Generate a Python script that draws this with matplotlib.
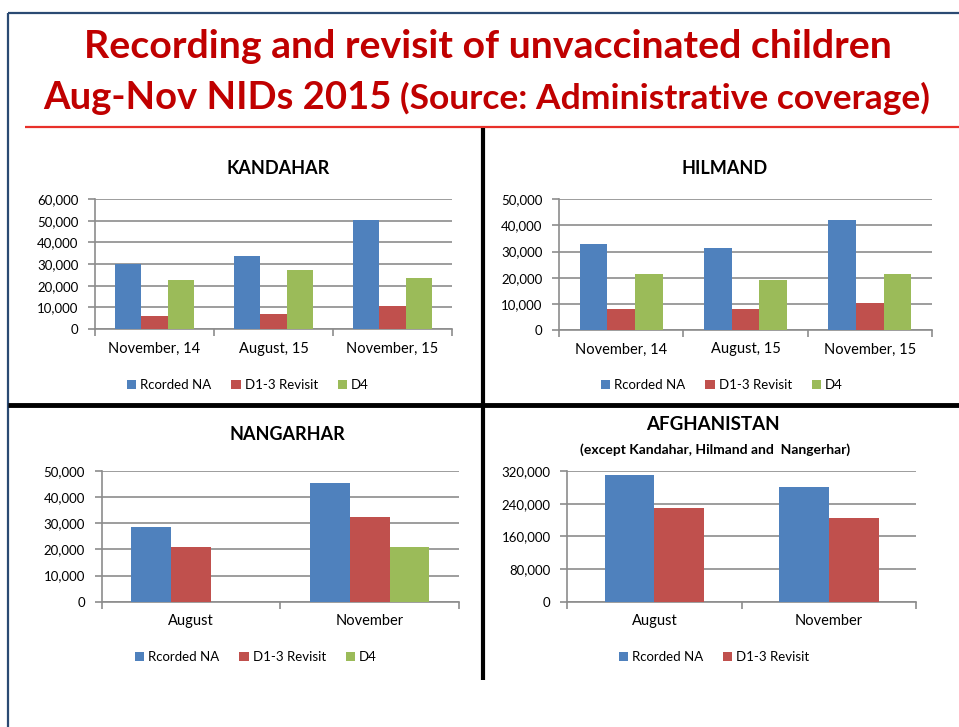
import numpy as np
import matplotlib
matplotlib.use("Agg")
import matplotlib.pyplot as plt
from matplotlib.ticker import FuncFormatter, FixedLocator

plt.rcParams['font.family'] = ['Lato', 'DejaVu Sans']

# ------------------ data ------------------
series_names = ["Rcorded NA", "D1-3 Revisit", "D4"]
colors = ["#4F81BD", "#C0504D", "#9BBB59"]

kandahar_cats = ["November, 14", "August, 15", "November, 15"]
kandahar_na = [30000, 33800, 50200]
kandahar_revisit = [5800, 6800, 10600]
kandahar_d4 = [22800, 27300, 23600]

hilmand_cats = ["November, 14", "August, 15", "November, 15"]
hilmand_na = [32800, 31200, 42000]
hilmand_revisit = [8200, 8200, 10500]
hilmand_d4 = [21300, 19000, 21300]

nangarhar_cats = ["August", "November"]
nangarhar_na = [28700, 45500]
nangarhar_revisit = [21000, 32500]
nangarhar_d4 = [0, 21000]

afg_cats = ["August", "November"]
afg_na = [311000, 281500]
afg_revisit = [228500, 204000]

W, H = 959, 727
fig = plt.figure(figsize=(W / 100, H / 100), dpi=100)
fig.patch.set_facecolor("white")


def rect(x0, y0, x1, y1):
    # pixel box -> figure fraction
    return [x0 / W, 1 - y1 / H, (x1 - x0) / W, (y1 - y0) / H]


def fline(xs, ys, color, lw):
    fig.add_artist(plt.Line2D([x / W for x in xs], [1 - y / H for y in ys],
                              color=color, lw=lw, transform=fig.transFigure,
                              solid_capstyle="butt"))


def bar_panel(box, cats, values, ymax, step, legend_xy):
    ax = fig.add_axes(rect(*box))
    n = len(values)
    x = np.arange(len(cats))
    w = 1 / (n + 1.5)
    for i, vals in enumerate(values):
        ax.bar(x + (i - (n - 1) / 2) * w, vals, width=w, color=colors[i],
               label=series_names[i], zorder=3)
    ax.set_xlim(-0.5, len(cats) - 0.5)
    ax.set_ylim(0, ymax)
    ax.set_yticks(np.arange(0, ymax + 1, step))
    ax.yaxis.set_major_formatter(FuncFormatter(lambda v, p: f"{int(v):,}"))
    ax.grid(axis="y", color="#8C8C8C", lw=1.2, zorder=0)
    ax.set_xticks(x)
    ax.set_xticklabels(cats, fontsize=10.5)
    ax.xaxis.set_minor_locator(FixedLocator(np.arange(-0.5, len(cats), 1)))
    ax.tick_params(axis="x", which="major", length=0, pad=9)
    ax.tick_params(axis="x", which="minor", length=5, color="#8C8C8C", width=1.2)
    ax.tick_params(axis="y", length=5, color="#8C8C8C", width=1.2, labelsize=9.5, pad=7)
    for s in ["top", "right"]:
        ax.spines[s].set_visible(False)
    for s in ["left", "bottom"]:
        ax.spines[s].set_color("#8C8C8C")
        ax.spines[s].set_linewidth(1.2)
    ax.legend(loc="center", bbox_to_anchor=(legend_xy[0] / W, 1 - legend_xy[1] / H),
              bbox_transform=fig.transFigure, ncol=n, frameon=False, fontsize=9.5,
              handlelength=0.7, handleheight=0.7, handletextpad=0.3, columnspacing=1.5)
    return ax


bar_panel((95, 199, 452, 329), kandahar_cats,
          [kandahar_na, kandahar_revisit, kandahar_d4], 60000, 10000, (248, 385))
bar_panel((559, 199.3, 932, 330), hilmand_cats,
          [hilmand_na, hilmand_revisit, hilmand_d4], 50000, 10000, (722, 385))
bar_panel((101.7, 471, 459, 601.7), nangarhar_cats,
          [nangarhar_na, nangarhar_revisit, nangarhar_d4], 50000, 10000, (256, 657))
bar_panel((567.3, 471, 916, 601.7), afg_cats,
          [afg_na, afg_revisit], 320000, 80000, (714, 657))

# ------------------ titles ------------------
red = "#C00000"
fig.text(488 / W, 1 - 47 / H, "Recording and revisit of unvaccinated children",
         ha="center", va="center", color=red, fontsize=28.3, fontweight="bold")
fig.text(392 / W, 1 - 98 / H, "Aug-Nov NIDs 2015", ha="right", va="center",
         color=red, fontsize=27.5, fontweight="bold")
fig.text(400 / W, 1 - 98 / H, "(Source: Administrative coverage)", ha="left",
         va="center", color=red, fontsize=25.5, fontweight="bold")

fig.text(278 / W, 1 - 168 / H, "KANDAHAR", ha="center", va="center",
         fontsize=13, fontweight="bold")
fig.text(725 / W, 1 - 168 / H, "HILMAND", ha="center", va="center",
         fontsize=13, fontweight="bold")
fig.text(287 / W, 1 - 434 / H, "NANGARHAR", ha="center", va="center",
         fontsize=13, fontweight="bold")
fig.text(713 / W, 1 - 424 / H, "AFGHANISTAN", ha="center", va="center",
         fontsize=13.5, fontweight="bold")
fig.text(715 / W, 1 - 450 / H, "(except Kandahar, Hilmand and  Nangerhar)",
         ha="center", va="center", fontsize=10, fontweight="bold")

# ------------------ frame and dividers ------------------
fline([8, 959], [13, 13], "#2B4A73", 1.6)
fline([8, 8], [13, 727], "#2B4A73", 1.6)
fline([25, 959], [127, 127], "#E8302A", 1.6)
fline([483, 483], [128, 680], "black", 3)
fline([8, 959], [405, 405], "black", 3.5)

fig.savefig("out.png", dpi=100)
